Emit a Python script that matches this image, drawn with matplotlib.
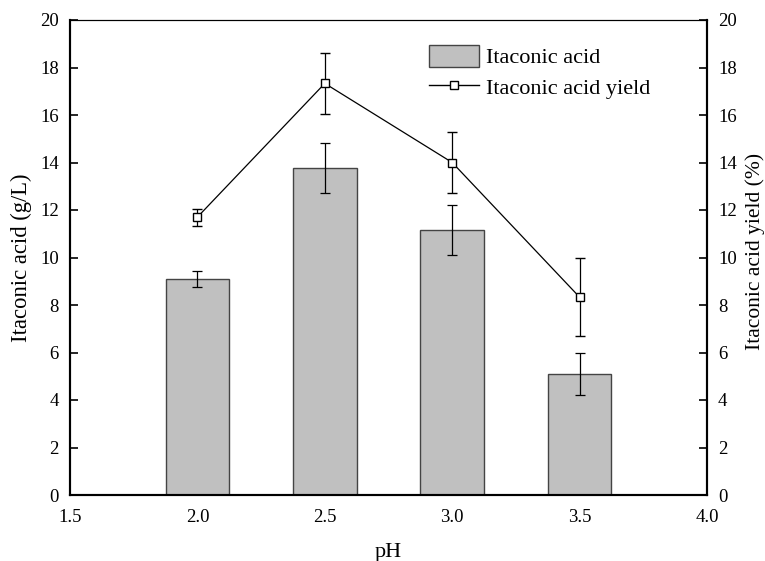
import matplotlib
matplotlib.use("Agg")
import matplotlib.pyplot as plt
from matplotlib.lines import Line2D
from matplotlib.patches import Patch

plt.rcParams['font.family'] = ['Liberation Serif', 'DejaVu Serif']

ph = [2.0, 2.5, 3.0, 3.5]
acid = [9.1, 13.77, 11.16, 5.1]
acid_err = [0.35, 1.07, 1.07, 0.88]
yield_pct = [11.7, 17.33, 14.0, 8.33]
yield_err = [0.36, 1.3, 1.3, 1.65]

fig = plt.figure(figsize=(7.65, 5.61), dpi=100)
ax = fig.add_axes([70/765, 66/561, 637/765, 475/561])

ax.bar(ph, acid, width=0.25, color='#c0c0c0', edgecolor='#444444', linewidth=1.0, zorder=2)
ax.errorbar(ph, acid, yerr=acid_err, fmt='none', ecolor='black', elinewidth=0.9,
            capsize=3.3, capthick=0.9, zorder=3)

ax2 = ax.twinx()
ax2.errorbar(ph, yield_pct, yerr=yield_err, fmt='-s', color='black', lw=0.9,
             mfc='white', mec='black', ms=6, mew=1.0, elinewidth=0.9,
             capsize=3.3, capthick=0.9, zorder=3)

for a in (ax, ax2):
    a.set_ylim(0, 20)
    a.set_yticks(range(0, 21, 2))
    a.spines['top'].set_linewidth(0.8)
    for s in ('left', 'right', 'bottom'):
        a.spines[s].set_linewidth(1.5)
    a.tick_params(direction='in', length=6, width=1.2, labelsize=13.5, pad=8)
ax.set_xlim(1.5, 4.0)
ax.set_xticks([1.5, 2.0, 2.5, 3.0, 3.5, 4.0])
ax.set_xticklabels(['1.5', '2.0', '2.5', '3.0', '3.5', '4.0'])
ax.tick_params(axis='x', pad=10)
ax.set_xlabel('pH', fontsize=16, labelpad=12)
ax.set_ylabel('Itaconic acid (g/L)', fontsize=16.3, labelpad=6)
ax2.set_ylabel('Itaconic acid yield (%)', fontsize=15.5, labelpad=6)
ax2.yaxis.label.set_y(0.513)

handles = [Patch(facecolor='#c0c0c0', edgecolor='#444444', label='Itaconic acid'),
           Line2D([], [], color='black', lw=1.0, marker='s', mfc='white', mec='black', ms=6,
                  label='Itaconic acid yield')]
ax2.legend(handles=handles, loc='upper left', bbox_to_anchor=(0.5636, 0.947), frameon=False,
           fontsize=16, handlelength=2.25, handleheight=1.1, handletextpad=0.3,
           labelspacing=0.35, borderaxespad=0, borderpad=0)

fig.savefig('out.png', dpi=100)
